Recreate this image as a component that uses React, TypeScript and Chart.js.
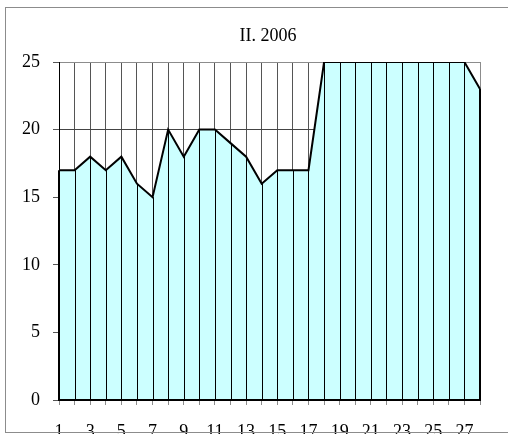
import { useEffect, useRef } from "react";
import { Chart, registerables } from "chart.js";

Chart.register(...registerables);

const dayLabels = ["1","2","3","4","5","6","7","8","9","10","11","12","13","14","15","16","17","18","19","20","21","22","23","24","25","26","27","28"];
const values = [17,17,18,17,18,16,15,20,18,20,20,19,18,16,17,17,17,25,25,25,25,25,25,25,25,25,25,23];
const yMin = 0;
const yMax = 25;
const yStep = 5;
const titleText = "II. 2006";

const FONT = "'Liberation Serif', 'Times New Roman', serif";

const framePlugin = {
  id: "frameAndTitle",
  afterDraw(chart: any) {
    const ctx = chart.ctx;
    ctx.save();
    ctx.strokeStyle = "#8c8c8c";
    ctx.lineWidth = 1;
    ctx.strokeRect(5.5, 7.5, 700, 425);
    ctx.fillStyle = "#000";
    ctx.font = "18px " + FONT;
    ctx.textAlign = "center";
    ctx.textBaseline = "alphabetic";
    ctx.fillText(titleText, 268, 41);
    ctx.restore();
  },
};

const dropPlugin = {
  id: "dropLines",
  afterDatasetsDraw(chart: any) {
    const ctx = chart.ctx;
    const meta = chart.getDatasetMeta(0);
    const y0 = chart.scales.y.getPixelForValue(0);
    ctx.save();
    ctx.strokeStyle = "#000";
    ctx.lineWidth = 1;
    meta.data.forEach((pt: any, i: number) => {
      if (i === 0 || i === meta.data.length - 1) return;
      const x = Math.round(pt.x) + 0.5;
      ctx.beginPath();
      ctx.moveTo(x, pt.y);
      ctx.lineTo(x, y0);
      ctx.stroke();
    });
    const first = meta.data[0];
    const last = meta.data[meta.data.length - 1];
    ctx.lineWidth = 2;
    ctx.beginPath();
    ctx.moveTo(first.x, first.y);
    ctx.lineTo(first.x, y0);
    ctx.lineTo(last.x, y0);
    ctx.lineTo(last.x, last.y);
    ctx.stroke();
    ctx.restore();
  },
};

export default function App() {
  const ref = useRef<HTMLCanvasElement>(null);
  useEffect(() => {
    if (!ref.current) return;
    const chart = new Chart(ref.current, {
      type: "line",
      data: {
        labels: dayLabels,
        datasets: [
          {
            data: values,
            borderColor: "#000",
            borderWidth: 2,
            backgroundColor: "#ccffff",
            fill: "origin",
            pointRadius: 0,
            tension: 0,
          },
        ],
      },
      options: {
        animation: false,
        responsive: false,
        layout: { padding: { left: 0, right: 28, top: 62, bottom: 0 } },
        plugins: { legend: { display: false }, tooltip: { enabled: false }, title: { display: false } },
        scales: {
          x: {
            type: "category",
            offset: false,
            afterFit(scale: any) {
              scale.height = 34;
            },
            border: { display: true, color: "#000", width: 1 },
            grid: {
              color: (c: any) => (c.index === dayLabels.length - 1 ? "#8c8c8c" : "#555555"),
              tickColor: "#8c8c8c",
              tickLength: 5,
              lineWidth: 1,
            },
            ticks: {
              autoSkip: false,
              maxRotation: 0,
              minRotation: 0,
              padding: 16,
              color: "#000",
              font: { family: FONT, size: 18 },
              callback: (_v: any, i: number) => (i % 2 === 0 ? dayLabels[i] : ""),
            },
          },
          y: {
            min: yMin,
            max: yMax,
            afterFit(scale: any) {
              scale.width = 59;
            },
            border: { display: true, color: "#000", width: 1 },
            grid: {
              color: (c: any) => (c.tick && c.tick.value === yMax ? "#8c8c8c" : "#444444"),
              tickColor: "#555555",
              tickLength: 6,
              lineWidth: 1,
            },
            ticks: {
              stepSize: yStep,
              padding: 13,
              color: "#000",
              font: { family: FONT, size: 18 },
            },
          },
        },
      },
      plugins: [dropPlugin, framePlugin],
    });
    return () => chart.destroy();
  }, []);
  return (
    <div style={{ position: "absolute", left: 0, top: 0, width: 508, height: 438, background: "#fff", overflow: "hidden" }}>
      <canvas ref={ref} width={508} height={434} style={{ display: "block" }} />
    </div>
  );
}
